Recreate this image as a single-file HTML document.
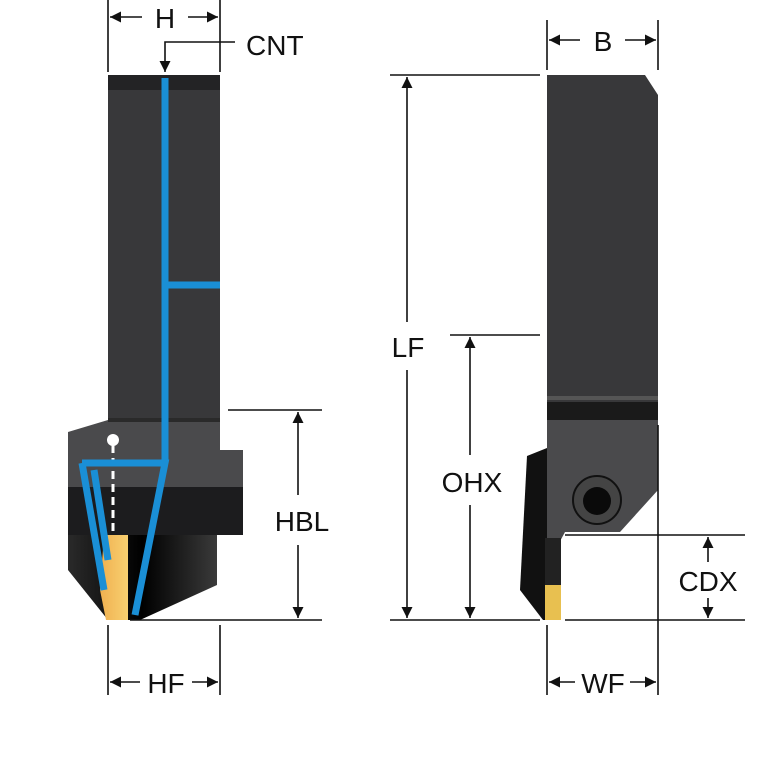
<!DOCTYPE html>
<html><head><style>html,body{margin:0;padding:0;background:#fff}svg{display:block}text{font-family:"Liberation Sans",sans-serif;font-size:28px;fill:#111}</style></head>
<body>
<svg width="767" height="767" viewBox="0 0 767 767">
<defs>
<marker id="a" viewBox="0 0 10 10" refX="10" refY="5" markerWidth="15" markerHeight="11" orient="auto-start-reverse" markerUnits="userSpaceOnUse"><path d="M0,0L10,5L0,10z" fill="#111"/></marker>
<linearGradient id="blk" x1="0" x2="1"><stop offset="0" stop-color="#2a2a2a"/><stop offset=".5" stop-color="#000"/><stop offset="1" stop-color="#3a3a3a"/></linearGradient>
<linearGradient id="gold" x1="0" x2="1"><stop offset="0" stop-color="#f0b050"/><stop offset="1" stop-color="#f8d070"/></linearGradient>
</defs>
<rect x="108" y="75" width="112" height="345" fill="#38383a"/>
<rect x="108" y="75" width="112" height="15" fill="#232325"/>
<path d="M108,398 Q100,408 108,420 Z" fill="#fff"/>
<path d="M68,432 L108,420 L220,420 L220,450 L243,450 L243,535 L68,535 Z" fill="#4a4a4c"/>
<rect x="108" y="418" width="112" height="4" fill="#2a2a2a"/>
<rect x="68" y="487" width="175" height="48" fill="#1c1c1e"/>
<path d="M68,535 L217,535 L217,585 L140,620 L108,620 L68,570 Z" fill="url(#blk)"/>
<path d="M104,535 L128,535 L128,620 L106,620 L100,590 Z" fill="url(#gold)"/>
<line x1="113" y1="445" x2="113" y2="535" stroke="#fff" stroke-width="3" stroke-dasharray="8,5"/>
<circle cx="113" cy="440" r="6" fill="#fff"/>
<g stroke="#1a8fd6" stroke-width="7" fill="none">
<path d="M165,78 L165,462"/>
<path d="M165,285 L220,285"/>
<path d="M82,463 L165,463 L135,615"/>
<path d="M82,463 L104,590"/>
<path d="M94,470 L108,560"/>
</g>
<path d="M547,75 L645,75 L658,95 L658,415 L547,415 Z" fill="#38383a"/>
<rect x="547" y="402" width="111" height="18" fill="#1a1a1a"/>
<rect x="547" y="396" width="111" height="4" fill="#555"/>
<path d="M547,420 L658,420 L658,490 L620,532 L565,532 L558,545 L558,620 L547,620 Z" fill="#4a4a4c"/>
<path d="M527,456 L547,448 L547,620 L543,620 L520,590 Z" fill="#111"/>
<rect x="545" y="538" width="16" height="50" fill="#222"/>
<rect x="545" y="585" width="16" height="35" fill="#e8c050"/>
<circle cx="597" cy="500" r="24" fill="#444" stroke="#111" stroke-width="2"/>
<circle cx="597" cy="501" r="14" fill="#0a0a0a"/>
<g stroke="#111" stroke-width="1.6" fill="none">
<line x1="108" y1="0" x2="108" y2="72"/><line x1="220" y1="0" x2="220" y2="72"/>
<line x1="110" y1="17" x2="142" y2="17" marker-start="url(#a)"/><line x1="188" y1="17" x2="218" y2="17" marker-end="url(#a)"/>
<path d="M235,42 L165,42 L165,72" marker-end="url(#a)"/>
<line x1="228" y1="410" x2="322" y2="410"/><line x1="130" y1="620" x2="322" y2="620"/>
<line x1="298" y1="412" x2="298" y2="495" marker-start="url(#a)"/><line x1="298" y1="545" x2="298" y2="618" marker-end="url(#a)"/>
<line x1="108" y1="625" x2="108" y2="695"/><line x1="220" y1="625" x2="220" y2="695"/>
<line x1="110" y1="682" x2="140" y2="682" marker-start="url(#a)"/><line x1="192" y1="682" x2="218" y2="682" marker-end="url(#a)"/>
<line x1="547" y1="20" x2="547" y2="70"/><line x1="658" y1="20" x2="658" y2="70"/>
<line x1="549" y1="40" x2="580" y2="40" marker-start="url(#a)"/><line x1="625" y1="40" x2="656" y2="40" marker-end="url(#a)"/>
<line x1="390" y1="75" x2="540" y2="75"/>
<line x1="407" y1="77" x2="407" y2="322" marker-start="url(#a)"/><line x1="407" y1="370" x2="407" y2="618" marker-end="url(#a)"/>
<line x1="450" y1="335" x2="540" y2="335"/>
<line x1="470" y1="337" x2="470" y2="455" marker-start="url(#a)"/><line x1="470" y1="505" x2="470" y2="618" marker-end="url(#a)"/>
<line x1="390" y1="620" x2="540" y2="620"/><line x1="565" y1="620" x2="745" y2="620"/>
<line x1="565" y1="535" x2="745" y2="535"/>
<line x1="708" y1="537" x2="708" y2="562" marker-start="url(#a)"/><line x1="708" y1="598" x2="708" y2="618" marker-end="url(#a)"/>
<line x1="658" y1="425" x2="658" y2="695"/><line x1="547" y1="625" x2="547" y2="695"/>
<line x1="549" y1="682" x2="575" y2="682" marker-start="url(#a)"/><line x1="630" y1="682" x2="656" y2="682" marker-end="url(#a)"/>
</g>
<text x="165" y="28" text-anchor="middle">H</text>
<text x="246" y="55">CNT</text>
<text x="302" y="531" text-anchor="middle">HBL</text>
<text x="166" y="693" text-anchor="middle">HF</text>
<text x="603" y="51" text-anchor="middle">B</text>
<text x="408" y="357" text-anchor="middle">LF</text>
<text x="472" y="492" text-anchor="middle">OHX</text>
<text x="708" y="591" text-anchor="middle">CDX</text>
<text x="603" y="693" text-anchor="middle">WF</text>
</svg>
</body></html>
